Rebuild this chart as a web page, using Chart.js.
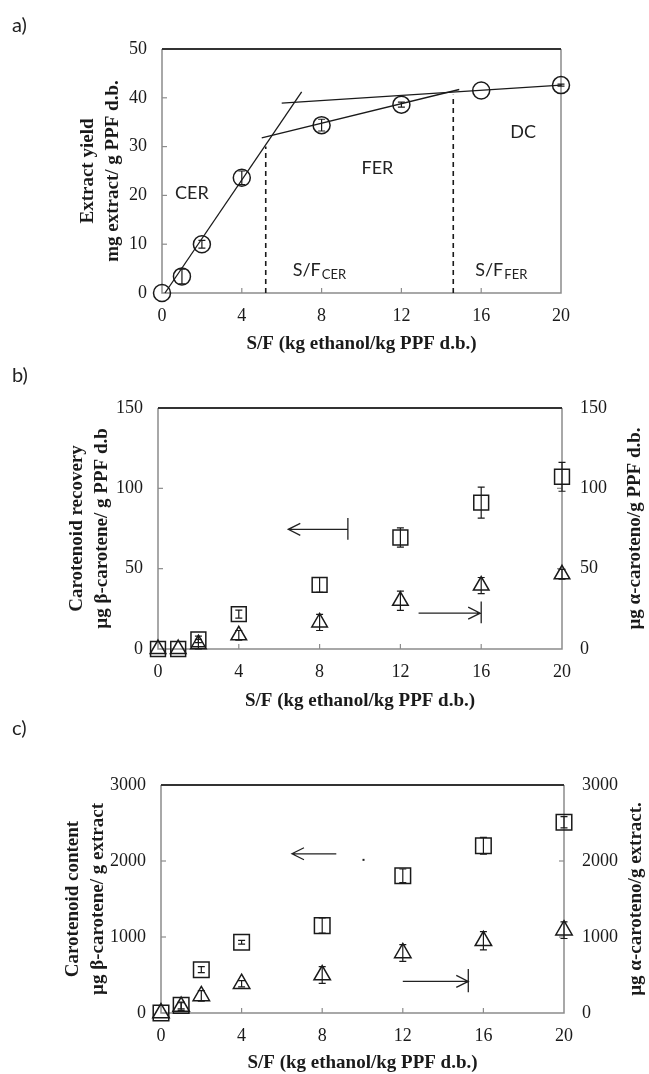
<!DOCTYPE html>
<html>
<head>
<meta charset="utf-8">
<script src="https://cdn.jsdelivr.net/npm/chart.js@4.4.1/dist/chart.umd.min.js"></script>
<style>
  body { margin: 0; background: #fff; }
  #wrap { position: relative; width: 649px; height: 1074px; overflow: hidden; }
  canvas { position: absolute; left: 0; }
  .tag { position: absolute; left: 12px; font: 20px Lato, "Open Sans", sans-serif; color: #222; z-index: 2; }
</style>
</head>
<body>
<div id="wrap">
  <canvas id="chartA" width="649" height="355" style="top:0"></canvas>
  <canvas id="chartB" width="649" height="357" style="top:355px"></canvas>
  <canvas id="chartC" width="649" height="362" style="top:712px"></canvas>
  <div class="tag" style="top:12px">a)</div>
  <div class="tag" style="top:362px">b)</div>
  <div class="tag" style="top:715px">c)</div>
</div>
<script>
// S/F values (kg ethanol / kg PPF d.b.)
const sfValues = [0, 1, 2, 4, 8, 12, 16, 20];
const xTicks = [0, 4, 8, 12, 16, 20];

// a) extract yield
const yieldValues = [0, 3.4, 10.0, 23.6, 34.4, 38.6, 41.5, 42.6];
const yieldErrors = [0, 1.5, 0.8, 1.4, 1.2, 0.5, 0, 0.2];
const yTicksA = [0, 10, 20, 30, 40, 50];
const cerLine = [[0.15, 0], [7.0, 41.2]];
const ferLine = [[5.0, 31.8], [14.9, 41.7]];
const dcLine = [[6.0, 38.9], [20, 42.6]];
const sfCerMark = [[5.2, 0], [5.2, 30.0]];
const sfFerMark = [[14.6, 0], [14.6, 40.6]];

// b) carotenoid recovery
const betaRecovery = [0, 0, 6, 21.7, 39.9, 69.4, 91.1, 107.2];
const betaRecoveryErr = [0, 0, 2, 2.5, 4.6, 6, 9.6, 9];
const alphaRecovery = [0, 0, 3, 8.5, 16.5, 30, 39.5, 46.5];
const alphaRecoveryErr = [0, 0, 3, 3, 5, 6, 5, 3];
const yTicksB = [0, 50, 100, 150];

// c) carotenoid content
const betaContent = [0, 100, 570, 930, 1150, 1805, 2200, 2510];
const betaContentErr = [0, 45, 40, 25, 100, 90, 110, 75];
const alphaContent = [0, 85, 225, 385, 500, 790, 950, 1090];
const alphaContentErr = [0, 50, 70, 40, 110, 110, 120, 110];
const yTicksC = [0, 1000, 2000, 3000];

// annotations (data coordinates)
const labelsA = [
    { text: 'CER', x: 1.5, y: 20.5 },
    { text: 'FER', x: 10.8, y: 25.6 },
    { text: 'DC', x: 18.1, y: 33 },
    { text: 'S/F', sub: 'CER', x: 6.55, y: 4.7 },
    { text: 'S/F', sub: 'FER', x: 15.7, y: 4.7 },
];
const arrowsB = [
    { from: 9.4, to: 6.45, y: 74.5, bar: [9.4, 68, 81.5] },
    { from: 12.9, to: 15.95, y: 22.3, bar: [16, 16, 29.5] },
];
const arrowsC = [
    { from: 8.7, to: 6.5, y: 2095 },
    { from: 12.0, to: 15.25, y: 416, bar: [15.25, 272, 580] },
];
const dotsC = [[10.05, 2015]];

const serif = '"Liberation Serif", "Times New Roman", serif';
const sans = 'Lato, "Open Sans", sans-serif';
const ink = '#1a1a1a';

function pts(xs, ys) {
    return xs.map((x, i) => ({ x: x, y: ys[i] }));
}
function pairs(list) {
    return list.map(p => ({ x: p[0], y: p[1] }));
}

function xAxis(height, labelPad) {
    return {
        type: 'linear', min: 0, max: 20,
        afterBuildTicks: s => { s.ticks = xTicks.map(v => ({ value: v })); },
        ticks: { font: { family: serif, size: 18 }, color: ink, padding: labelPad, callback: v => String(v) },
        grid: { display: false, drawTicks: false },
        border: { display: false },
        title: {
            display: true, text: 'S/F (kg ethanol/kg PPF d.b.)', color: ink,
            font: { family: serif, size: 19, weight: 'bold', lineHeight: 1.2 },
            padding: { top: 0, bottom: 0 },
        },
        afterFit: s => { s.height = height; },
    };
}

function yAxis(position, ticks, width, labelPad, lines, titlePad) {
    return {
        type: 'linear', position: position,
        min: ticks[0], max: ticks[ticks.length - 1],
        afterBuildTicks: s => { s.ticks = ticks.map(v => ({ value: v })); },
        ticks: { font: { family: serif, size: 18 }, color: ink, padding: labelPad, callback: v => String(v) },
        grid: { display: false, drawTicks: false },
        border: { display: false },
        title: {
            display: position === 'left', text: lines, color: ink,
            font: { family: serif, size: 19, weight: 'bold', lineHeight: 1.3 },
            padding: { top: titlePad, bottom: 0 },
        },
        afterFit: s => { s.width = width; },
    };
}

function markerSet(data, style, radius, errors, axis) {
    return {
        data: data, pointStyle: style, pointRadius: radius,
        borderColor: ink, backgroundColor: 'rgba(0,0,0,0)', pointBorderWidth: 1.5,
        showLine: false, clip: false, errors: errors, yAxisID: axis || 'y',
    };
}

function lineSet(data, dashed) {
    return {
        data: data, showLine: true, pointRadius: 0, borderColor: ink,
        borderWidth: dashed ? 1.6 : 1.3, borderDash: dashed ? [5, 4] : [], clip: false,
    };
}

// frame around the plot area with inward tick marks
function framePlugin(tickAxes) {
    return {
        id: 'frame',
        beforeDatasetsDraw(chart) {
            const { ctx, chartArea: a } = chart;
            ctx.save();
            ctx.strokeStyle = '#8c8c8c';
            ctx.lineWidth = 1.5;
            ctx.beginPath();
            ctx.moveTo(a.left, a.top); ctx.lineTo(a.left, a.bottom);
            ctx.lineTo(a.right, a.bottom); ctx.lineTo(a.right, a.top);
            ctx.stroke();
            ctx.strokeStyle = '#333';
            ctx.lineWidth = 2;
            ctx.beginPath();
            ctx.moveTo(a.left, a.top); ctx.lineTo(a.right, a.top);
            ctx.stroke();
            ctx.strokeStyle = '#8c8c8c';
            ctx.lineWidth = 1.2;
            tickAxes.forEach(id => {
                const s = chart.scales[id];
                s.ticks.forEach(t => {
                    const p = s.getPixelForValue(t.value);
                    ctx.beginPath();
                    if (id === 'x') {
                        if (p <= a.left + 1 || p >= a.right - 1) return;
                        ctx.moveTo(p, a.bottom); ctx.lineTo(p, a.bottom - 5);
                    } else {
                        if (p <= a.top + 1 || p >= a.bottom - 1) return;
                        const x0 = s.position === 'right' ? a.right : a.left;
                        const d = s.position === 'right' ? -5 : 5;
                        ctx.moveTo(x0, p); ctx.lineTo(x0 + d, p);
                    }
                    ctx.stroke();
                });
            });
            ctx.restore();
        },
    };
}

// right-hand axis title, read bottom to top like the left one
function rightTitlePlugin(text, x) {
    return {
        id: 'rightTitle',
        afterDraw(chart) {
            const { ctx, chartArea: a } = chart;
            ctx.save();
            ctx.translate(x, (a.top + a.bottom) / 2);
            ctx.rotate(-Math.PI / 2);
            ctx.font = 'bold 19px ' + serif;
            ctx.fillStyle = ink;
            ctx.textAlign = 'center';
            ctx.textBaseline = 'middle';
            ctx.fillText(text, 0, 0);
            ctx.restore();
        },
    };
}

const errorBars = {
    id: 'errorBars',
    afterDatasetsDraw(chart) {
        const ctx = chart.ctx;
        ctx.save();
        ctx.strokeStyle = ink;
        ctx.lineWidth = 1.2;
        chart.data.datasets.forEach((ds, i) => {
            if (!ds.errors) return;
            const meta = chart.getDatasetMeta(i);
            const ys = chart.scales[ds.yAxisID || 'y'];
            meta.data.forEach((el, j) => {
                const e = ds.errors[j];
                if (!e) return;
                const v = ds.data[j].y;
                const top = ys.getPixelForValue(v + e);
                const bot = ys.getPixelForValue(Math.max(v - e, 0));
                ctx.beginPath();
                ctx.moveTo(el.x, top); ctx.lineTo(el.x, bot);
                ctx.moveTo(el.x - 3.5, top); ctx.lineTo(el.x + 3.5, top);
                ctx.moveTo(el.x - 3.5, bot); ctx.lineTo(el.x + 3.5, bot);
                ctx.stroke();
            });
        });
        ctx.restore();
    },
};

function notesPlugin(labels, arrows, dots) {
    return {
        id: 'notes',
        afterDatasetsDraw(chart) {
            const ctx = chart.ctx, xs = chart.scales.x, ys = chart.scales.y;
            ctx.save();
            ctx.fillStyle = '#222';
            ctx.strokeStyle = '#222';
            ctx.lineWidth = 1.3;
            ctx.textBaseline = 'middle';
            (labels || []).forEach(n => {
                const px = xs.getPixelForValue(n.x), py = ys.getPixelForValue(n.y);
                ctx.font = '18px ' + sans;
                ctx.textAlign = n.sub ? 'left' : 'center';
                ctx.fillText(n.text, px, py);
                if (n.sub) {
                    const w = ctx.measureText(n.text).width;
                    ctx.font = '13px ' + sans;
                    ctx.fillText(n.sub, px + w + 1, py + 5);
                }
            });
            (arrows || []).forEach(a => {
                const x1 = xs.getPixelForValue(a.from), x2 = xs.getPixelForValue(a.to);
                const py = ys.getPixelForValue(a.y);
                const dir = Math.sign(x2 - x1);
                ctx.beginPath();
                ctx.moveTo(x1, py); ctx.lineTo(x2, py);
                ctx.moveTo(x2 - dir * 12, py - 6); ctx.lineTo(x2, py); ctx.lineTo(x2 - dir * 12, py + 6);
                if (a.bar) {
                    const bx = xs.getPixelForValue(a.bar[0]);
                    ctx.moveTo(bx, ys.getPixelForValue(a.bar[1]));
                    ctx.lineTo(bx, ys.getPixelForValue(a.bar[2]));
                }
                ctx.stroke();
            });
            (dots || []).forEach(d => {
                ctx.fillRect(xs.getPixelForValue(d[0]) - 1, ys.getPixelForValue(d[1]) - 1, 2, 2);
            });
            ctx.restore();
        },
    };
}

const common = {
    responsive: false,
    animation: false,
    events: [],
    plugins: { legend: { display: false }, tooltip: { enabled: false } },
};

// a)
new Chart(document.getElementById('chartA'), {
    type: 'scatter',
    data: {
        datasets: [
            lineSet(pairs(cerLine)),
            lineSet(pairs(ferLine)),
            lineSet(pairs(dcLine)),
            lineSet(pairs(sfCerMark), true),
            lineSet(pairs(sfFerMark), true),
            markerSet(pts(sfValues, yieldValues), 'circle', 8.5, yieldErrors),
        ],
    },
    options: Object.assign({}, common, {
        layout: { padding: { left: 0, right: 88, top: 49, bottom: 0 } },
        scales: {
            x: xAxis(62, 12),
            y: yAxis('left', yTicksA, 162, 15, ['Extract yield', 'mg extract/ g PPF d.b.'], 76),
        },
    }),
    plugins: [framePlugin(['x', 'y']), errorBars, notesPlugin(labelsA)],
});

// b)
new Chart(document.getElementById('chartB'), {
    type: 'scatter',
    data: {
        datasets: [
            markerSet(pts(sfValues, betaRecovery), 'rect', 10.5, betaRecoveryErr, 'y'),
            markerSet(pts(sfValues, alphaRecovery), 'triangle', 9, alphaRecoveryErr, 'y2'),
        ],
    },
    options: Object.assign({}, common, {
        layout: { padding: { left: 0, right: 0, top: 53, bottom: 0 } },
        scales: {
            x: xAxis(63, 12),
            y: yAxis('left', yTicksB, 158, 15, ['Carotenoid recovery', 'µg β-carotene/ g PPF d.b'], 65),
            y2: yAxis('right', yTicksB, 87, 18, '', 0),
        },
    }),
    plugins: [framePlugin(['x', 'y', 'y2']), errorBars, notesPlugin(null, arrowsB),
        rightTitlePlugin('µg α-caroteno/g PPF d.b.', 635)],
});

// c)
new Chart(document.getElementById('chartC'), {
    type: 'scatter',
    data: {
        datasets: [
            markerSet(pts(sfValues, betaContent), 'rect', 11, betaContentErr, 'y'),
            markerSet(pts(sfValues, alphaContent), 'triangle', 9.5, alphaContentErr, 'y2'),
        ],
    },
    options: Object.assign({}, common, {
        layout: { padding: { left: 0, right: 0, top: 73, bottom: 0 } },
        scales: {
            x: xAxis(61, 12),
            y: yAxis('left', yTicksC, 161, 15, ['Carotenoid content', 'µg β-carotene/ g extract'], 61),
            y2: yAxis('right', yTicksC, 85, 18, '', 0),
        },
    }),
    plugins: [framePlugin(['x', 'y', 'y2']), errorBars, notesPlugin(null, arrowsC, dotsC),
        rightTitlePlugin('µg α-caroteno/g extract.', 636)],
});
</script>
</body>
</html>
